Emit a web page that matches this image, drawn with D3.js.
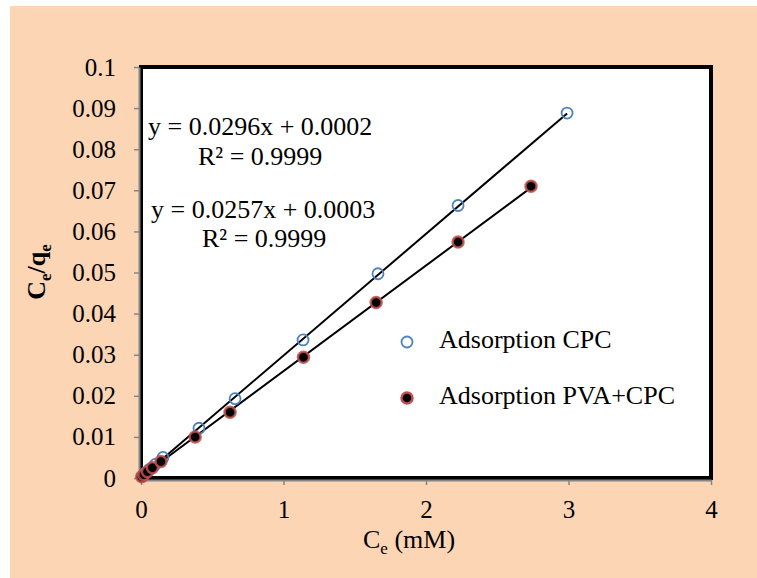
<!DOCTYPE html>
<html>
<head>
<meta charset="utf-8">
<script src="https://cdn.jsdelivr.net/npm/d3@7"></script>
<style>
  body { margin: 0; background: #fff; }
  svg text { font-family: "Liberation Serif", "Times New Roman", serif; fill: #000; }
</style>
</head>
<body>
<div class="content"></div>
<script>
// data
const cpcX = [0.01, 0.03, 0.06, 0.10, 0.154, 0.407, 0.66, 1.137, 1.663, 2.225, 2.99];
const cpcY = [0.0005, 0.0012, 0.0021, 0.0033, 0.0050, 0.0121, 0.0193, 0.0336, 0.0497, 0.0663, 0.0888];
const pvaX = [0.005, 0.02, 0.045, 0.08, 0.14, 0.38, 0.625, 1.14, 1.65, 2.225, 2.737];
const pvaY = [0.0003, 0.0008, 0.0015, 0.0025, 0.0040, 0.0100, 0.0160, 0.0294, 0.0427, 0.0574, 0.0710];
const fitSlope = [0.0296, 0.0257];
const fitIntercept = [0.0002, 0.0003];
const eqLabels = ['y = 0.0296x + 0.0002', 'y = 0.0257x + 0.0003'];
const r2Labels = ['R² = 0.9999', 'R² = 0.9999'];
const seriesNames = ['Adsorption CPC', 'Adsorption PVA+CPC'];
const xTicks = [0, 1, 2, 3, 4];
const yTicks = [0, 0.01, 0.02, 0.03, 0.04, 0.05, 0.06, 0.07, 0.08, 0.09, 0.1];

(function () {
    let W = 757, H = 578;
    let margin = {top: 67, right: 46, bottom: 100, left: 141};
    let width = W - margin.left - margin.right;   // 570
    let height = H - margin.top - margin.bottom;  // 411

    let svg = d3.select('.content').append('svg')
        .attr('width', W)
        .attr('height', H);

    // peach chart background
    svg.append('rect')
        .attr('x', 10).attr('y', 6)
        .attr('width', W - 10).attr('height', H - 6)
        .attr('fill', '#FCD5B5');

    let g = svg.append('g')
        .attr('transform', 'translate(' + margin.left + ',' + margin.top + ')');

    let xScale = d3.scaleLinear().domain([0, 4]).range([0, width]);
    let yScale = d3.scaleLinear().domain([0, 0.1]).range([height, 0]);

    // plot area with heavy black frame
    g.append('rect')
        .attr('x', 0).attr('y', 0)
        .attr('width', width).attr('height', height)
        .attr('fill', '#fff')
        .attr('stroke', '#000')
        .attr('stroke-width', 4);

    let xAxis = d3.axisBottom(xScale)
        .tickValues(xTicks)
        .tickFormat(d3.format('d'))
        .tickSizeInner(5)
        .tickSizeOuter(0)
        .tickPadding(15);

    let yAxis = d3.axisLeft(yScale)
        .tickValues(yTicks)
        .tickFormat(function (d) { return d === 0 ? '0' : String(+d.toFixed(2)); })
        .tickSizeInner(5)
        .tickSizeOuter(0)
        .tickPadding(18);

    let gX = g.append('g')
        .attr('transform', 'translate(0,' + (height + 2) + ')')
        .call(xAxis);
    let gY = g.append('g')
        .attr('transform', 'translate(-2,0)')
        .call(yAxis);

    [gX, gY].forEach(function (ax) {
        ax.select('.domain').attr('stroke', '#868686').attr('stroke-width', 2);
        ax.selectAll('.tick line').attr('stroke', '#868686').attr('stroke-width', 1.5);
        ax.selectAll('.tick text')
            .style('font-family', '"Liberation Serif", serif')
            .style('font-size', '25px')
            .attr('fill', '#000');
    });

    // trend lines
    let series = [
        {xs: cpcX, ys: cpcY},
        {xs: pvaX, ys: pvaY}
    ];
    series.forEach(function (s, i) {
        let x0 = 0, x1 = d3.max(s.xs);
        g.append('line')
            .attr('x1', xScale(x0))
            .attr('y1', yScale(fitSlope[i] * x0 + fitIntercept[i]))
            .attr('x2', xScale(x1))
            .attr('y2', yScale(fitSlope[i] * x1 + fitIntercept[i]))
            .attr('stroke', '#000')
            .attr('stroke-width', 2);
    });

    // points
    let pva = pvaX.map(function (x, i) { return {x: x, y: pvaY[i]}; });
    let cpc = cpcX.map(function (x, i) { return {x: x, y: cpcY[i]}; });

    g.append('g').selectAll('.dot-cpc')
        .data(cpc)
        .enter()
        .append('circle')
        .attr('class', 'dot-cpc')
        .attr('r', 5.5)
        .attr('fill', 'none')
        .attr('stroke', '#4F81BD')
        .attr('stroke-width', 1.8)
        .attr('cx', function (d) { return xScale(d.x); })
        .attr('cy', function (d) { return yScale(d.y); });

    g.append('g').selectAll('.dot-pva')
        .data(pva)
        .enter()
        .append('circle')
        .attr('class', 'dot-pva')
        .attr('r', 5.5)
        .attr('fill', '#000')
        .attr('stroke', '#C0504D')
        .attr('stroke-opacity', 0.85)
        .attr('stroke-width', 2.5)
        .attr('cx', function (d) { return xScale(d.x); })
        .attr('cy', function (d) { return yScale(d.y); });

    // equation labels
    let eqPos = [{x: 148, y: 135, rx: 198, ry: 165}, {x: 151, y: 218, rx: 202, ry: 247}];
    eqPos.forEach(function (p, i) {
        svg.append('text').attr('x', p.x).attr('y', p.y)
            .style('font-size', '26px').text(eqLabels[i]);
        svg.append('text').attr('x', p.rx).attr('y', p.ry)
            .style('font-size', '26px').text(r2Labels[i]);
    });

    // legend
    let legY = [342, 398];
    legY.forEach(function (y, i) {
        let c = svg.append('circle').attr('cx', 407).attr('cy', y).attr('r', 5.5);
        if (i === 0) {
            c.attr('fill', 'none').attr('stroke', '#4F81BD').attr('stroke-width', 1.8);
        } else {
            c.attr('fill', '#000').attr('stroke', '#C0504D').attr('stroke-width', 2.5);
        }
        svg.append('text').attr('x', 439).attr('y', y + 6)
            .style('font-size', '26px').text(seriesNames[i]);
    });

    // axis titles
    let xt = svg.append('text')
        .attr('x', 363).attr('y', 548)
        .style('font-size', '26px');
    xt.append('tspan').text('C');
    xt.append('tspan').attr('dy', 6).style('font-size', '17px').text('e');
    xt.append('tspan').attr('dy', -6).text(' (mM)');

    let yt = svg.append('text')
        .attr('transform', 'translate(45,272) rotate(-90)')
        .attr('text-anchor', 'middle')
        .style('font-size', '26px')
        .style('font-weight', 'bold');
    yt.append('tspan').text('C');
    yt.append('tspan').attr('dy', 6).style('font-size', '17px').text('e');
    yt.append('tspan').attr('dy', -6).text('/q');
    yt.append('tspan').attr('dy', 6).style('font-size', '17px').text('e');
})();
</script>
</body>
</html>
